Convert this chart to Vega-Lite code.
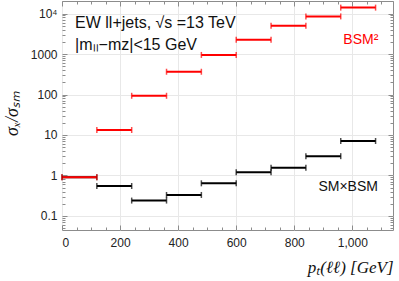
{
  "$schema": "https://vega.github.io/schema/vega-lite/v6.json",
  "width": 331,
  "height": 229,
  "autosize": {"type": "none"},
  "padding": {"left": 62, "top": 1, "right": 6, "bottom": 51},
  "config": {
    "view": {"stroke": "#8c8c8c", "strokeWidth": 1},
    "font": "Liberation Sans",
    "axis": {"domain": false, "labelFont": "Liberation Sans", "labelFontSize": 12, "labelColor": "#222", "tickColor": "#8c8c8c", "tickWidth": 1}
  },
  "datasets": {
    "bins": [
      {"series": "SM×BSM", "lo": 0, "hi": 120, "val": 0.9},
      {"series": "SM×BSM", "lo": 120, "hi": 240, "val": 0.55},
      {"series": "SM×BSM", "lo": 240, "hi": 360, "val": 0.24},
      {"series": "SM×BSM", "lo": 360, "hi": 480, "val": 0.33},
      {"series": "SM×BSM", "lo": 480, "hi": 600, "val": 0.64},
      {"series": "SM×BSM", "lo": 600, "hi": 720, "val": 1.2},
      {"series": "SM×BSM", "lo": 720, "hi": 840, "val": 1.56},
      {"series": "SM×BSM", "lo": 840, "hi": 960, "val": 3.0},
      {"series": "SM×BSM", "lo": 960, "hi": 1080, "val": 7.1},
      {"series": "BSM²", "lo": 0, "hi": 120, "val": 0.91},
      {"series": "BSM²", "lo": 120, "hi": 240, "val": 13.3},
      {"series": "BSM²", "lo": 240, "hi": 360, "val": 93},
      {"series": "BSM²", "lo": 360, "hi": 480, "val": 365},
      {"series": "BSM²", "lo": 480, "hi": 600, "val": 950},
      {"series": "BSM²", "lo": 600, "hi": 720, "val": 2250},
      {"series": "BSM²", "lo": 720, "hi": 840, "val": 5000},
      {"series": "BSM²", "lo": 840, "hi": 960, "val": 8500},
      {"series": "BSM²", "lo": 960, "hi": 1080, "val": 14000}
    ],
    "titles": [
      {"x": 45, "y": 5800, "text": "EW ll+jets, √s =13 TeV"},
      {"x": 45, "y": 1660, "text": "|mₗₗ−mᴢ|<15 GeV"}
    ],
    "blackNotes": [
      {"x": 883, "y": 0.53, "text": "SM×BSM"}
    ],
    "redNotes": [
      {"x": 969, "y": 2250, "text": "BSM²"}
    ]
  },
  "resolve": {"axis": {"x": "independent", "y": "independent"}},
  "layer": [
    {
      "data": {"name": "bins"},
      "mark": {"type": "rule", "strokeWidth": 2},
      "encoding": {
        "x": {
          "field": "lo", "type": "quantitative",
          "scale": {"domain": [0, 1140], "nice": false, "zero": false},
          "axis": {
            "orient": "bottom",
            "values": [0,50,100,150,200,250,300,350,400,450,500,550,600,650,700,750,800,850,900,950,1000,1050,1100],
            "labelExpr": "datum.value % 200 == 0 ? datum.label : ''",
            "tickSize": {"condition": {"test": "datum.value % 200 == 0", "value": -5}, "value": -3},
            "labelPadding": 12,
            "grid": true,
            "gridColor": {"condition": {"test": "datum.value % 200 == 0", "value": "#e8e8e8"}, "value": "transparent"},
            "title": "pₜ(ℓℓ) [GeV]",
            "titleFont": "Liberation Serif",
            "titleFontStyle": "italic",
            "titleFontWeight": "normal",
            "titleFontSize": 17,
            "titleColor": "#111",
            "titleAnchor": "end",
            "titleAlign": "right",
            "titleBaseline": "alphabetic",
            "titleX": 331,
            "titleY": 42
          }
        },
        "x2": {"field": "hi"},
        "y": {
          "field": "val", "type": "quantitative",
          "scale": {"type": "log", "domain": [0.045, 20400], "nice": false},
          "axis": {
            "orient": "left",
            "values": [0.05,0.06,0.07,0.08,0.09,0.1,0.2,0.3,0.4,0.5,0.6,0.7,0.8,0.9,1,2,3,4,5,6,7,8,9,10,20,30,40,50,60,70,80,90,100,200,300,400,500,600,700,800,900,1000,2000,3000,4000,5000,6000,7000,8000,9000,10000,20000],
            "labelExpr": "datum.value == 10000 ? '10⁴' : (indexof([0.1,1,10,100,1000], datum.value) >= 0 ? '' + datum.value : '')",
            "tickSize": {"condition": {"test": "indexof([0.1,1,10,100,1000,10000], datum.value) >= 0", "value": -5}, "value": -3},
            "labelPadding": 10,
            "grid": true,
            "gridColor": {"condition": {"test": "indexof([0.1,1,10,100,1000,10000], datum.value) >= 0", "value": "#e8e8e8"}, "value": "transparent"},
            "title": "σₓ/σₛₘ",
            "titleFont": "Liberation Serif",
            "titleFontStyle": "italic",
            "titleFontWeight": "normal",
            "titleFontSize": 18,
            "titleColor": "#111",
            "titleX": -41,
            "titleY": 112
          }
        },
        "color": {"field": "series", "type": "nominal", "scale": {"domain": ["SM×BSM", "BSM²"], "range": ["#000000", "#ff0000"]}, "legend": null}
      }
    },
    {
      "data": {"name": "bins"},
      "mark": {"type": "tick", "orient": "vertical", "size": 6, "thickness": 1.5},
      "encoding": {
        "x": {
          "field": "lo", "type": "quantitative",
          "axis": {
            "orient": "top",
            "values": [0,50,100,150,200,250,300,350,400,450,500,550,600,650,700,750,800,850,900,950,1000,1050,1100],
            "labels": false,
            "grid": false,
            "title": null,
            "tickSize": {"condition": {"test": "datum.value % 200 == 0", "value": -5}, "value": -3}
          }
        },
        "y": {
          "field": "val", "type": "quantitative",
          "axis": {
            "orient": "right",
            "values": [0.05,0.06,0.07,0.08,0.09,0.1,0.2,0.3,0.4,0.5,0.6,0.7,0.8,0.9,1,2,3,4,5,6,7,8,9,10,20,30,40,50,60,70,80,90,100,200,300,400,500,600,700,800,900,1000,2000,3000,4000,5000,6000,7000,8000,9000,10000,20000],
            "labels": false,
            "grid": false,
            "title": null,
            "tickSize": {"condition": {"test": "indexof([0.1,1,10,100,1000,10000], datum.value) >= 0", "value": -5}, "value": -3}
          }
        },
        "color": {"field": "series", "type": "nominal", "legend": null}
      }
    },
    {
      "data": {"name": "bins"},
      "mark": {"type": "tick", "orient": "vertical", "size": 6, "thickness": 1.5},
      "encoding": {
        "x": {"field": "hi", "type": "quantitative", "axis": null},
        "y": {"field": "val", "type": "quantitative", "axis": null},
        "color": {"field": "series", "type": "nominal", "legend": null}
      }
    },
    {
      "data": {"name": "titles"},
      "mark": {"type": "text", "align": "left", "baseline": "middle", "fontSize": 16, "font": "Liberation Sans", "color": "#111"},
      "encoding": {
        "x": {"field": "x", "type": "quantitative", "axis": null},
        "y": {"field": "y", "type": "quantitative", "axis": null},
        "text": {"field": "text"}
      }
    },
    {
      "data": {"name": "blackNotes"},
      "mark": {"type": "text", "align": "left", "baseline": "middle", "fontSize": 14, "font": "Liberation Sans", "color": "#111"},
      "encoding": {
        "x": {"field": "x", "type": "quantitative", "axis": null},
        "y": {"field": "y", "type": "quantitative", "axis": null},
        "text": {"field": "text"}
      }
    },
    {
      "data": {"name": "redNotes"},
      "mark": {"type": "text", "align": "left", "baseline": "middle", "fontSize": 14, "font": "Liberation Sans", "color": "#ff0000"},
      "encoding": {
        "x": {"field": "x", "type": "quantitative", "axis": null},
        "y": {"field": "y", "type": "quantitative", "axis": null},
        "text": {"field": "text"}
      }
    }
  ]
}
